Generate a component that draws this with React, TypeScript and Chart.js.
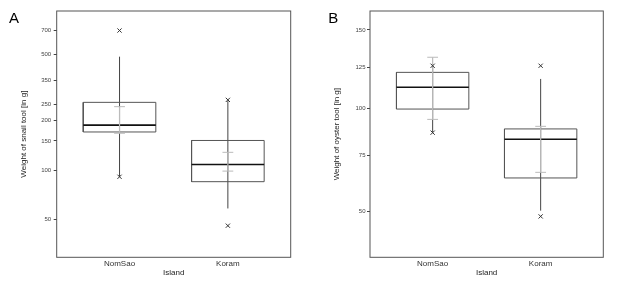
import React, { useEffect, useRef } from 'react';
import { Chart, registerables, LinearScale } from 'chart.js';

Chart.register(...registerables);

// Square-root scale (panel B)
class SqrtScale extends LinearScale {
  static id = 'sqrt';
  static defaults = {};
  getPixelForValue(value: number) {
    const a = Math.sqrt(this.min);
    const b = Math.sqrt(this.max);
    return this.getPixelForDecimal((Math.sqrt(value) - a) / (b - a));
  }
  getValueForPixel(pixel: number) {
    const a = Math.sqrt(this.min);
    const b = Math.sqrt(this.max);
    const s = a + this.getDecimalForPixel(pixel) * (b - a);
    return s * s;
  }
}
Chart.register(SqrtScale as any);

// ---------------- DATA ----------------
const islands = ['NomSao', 'Koram'];

// Panel A: weight of snail tool [in g] (log scale)
const snailTicks = [50, 100, 150, 200, 250, 350, 500, 700];
const snailWhiskerLow = [91, 58.5];
const snailQ1 = [170, 85];
const snailMedian = [187, 108];
const snailQ3 = [257, 151];
const snailWhiskerHigh = [486, 262];
const snailCiLow = [167, 98.5];
const snailCiHigh = [242, 128];
const snailMarkHigh = [700, 266];
const snailMarkLow = [91, 46];

// Panel B: weight of oyster tool [in g] (square-root scale)
const oysterTicks = [50, 75, 100, 125, 150];
const oysterWhiskerLow = [86.8, 50.3];
const oysterQ1 = [99.8, 64.4];
const oysterMedian = [112.6, 83.3];
const oysterQ3 = [121.8, 88.8];
const oysterWhiskerHigh = [126, 117.7];
const oysterCiLow = [94, 67];
const oysterCiHigh = [131.5, 90.2];
const oysterMarkHigh = [126, 126];
const oysterMarkLow = [86.8, 48];

// ---------------- STYLE ----------------
const FONT = "'Liberation Sans', Arial, Helvetica, sans-serif";
const BOX_HALF = 0.335;
const CAP_HALF = 0.05;
const C_WHISKER = '#444';
const C_BOX = '#555';
const C_MEDIAN = '#111';
const C_CI = '#bbbbbb';
const C_MARK = '#333';

Chart.defaults.font.family = FONT;

type Stats = {
  wLow: number[]; q1: number[]; med: number[]; q3: number[]; wHigh: number[];
  ciLow: number[]; ciHigh: number[]; markHigh: number[]; markLow: number[];
};

function buildDatasets(s: Stats) {
  const line = (data: { x: number; y: number }[], color: string, width: number) => ({
    data,
    showLine: true,
    borderColor: color,
    borderWidth: width,
    pointRadius: 0,
    fill: false,
  });
  const ds: any[] = [];
  // first = top-most
  ds.push({
    data: islands.flatMap((_, i) => [
      { x: i + 1, y: s.markHigh[i] },
      { x: i + 1, y: s.markLow[i] },
    ]),
    showLine: false,
    pointStyle: 'crossRot',
    pointRadius: 3,
    pointBorderColor: C_MARK,
    pointBackgroundColor: C_MARK,
    pointBorderWidth: 1,
  });
  islands.forEach((_, i) => {
    const x = i + 1;
    ds.push(line([{ x, y: s.ciLow[i] }, { x, y: s.ciHigh[i] }], C_CI, 1.2));
    ds.push(line([{ x: x - CAP_HALF, y: s.ciLow[i] }, { x: x + CAP_HALF, y: s.ciLow[i] }], C_CI, 1));
    ds.push(line([{ x: x - CAP_HALF, y: s.ciHigh[i] }, { x: x + CAP_HALF, y: s.ciHigh[i] }], C_CI, 1));
  });
  islands.forEach((_, i) => {
    const x = i + 1;
    ds.push(line([{ x: x - BOX_HALF, y: s.med[i] }, { x: x + BOX_HALF, y: s.med[i] }], C_MEDIAN, 1.6));
  });
  islands.forEach((_, i) => {
    const x = i + 1;
    ds.push(line([
      { x: x - BOX_HALF, y: s.q1[i] },
      { x: x + BOX_HALF, y: s.q1[i] },
      { x: x + BOX_HALF, y: s.q3[i] },
      { x: x - BOX_HALF, y: s.q3[i] },
      { x: x - BOX_HALF, y: s.q1[i] },
    ], C_BOX, 1));
  });
  islands.forEach((_, i) => {
    const x = i + 1;
    ds.push(line([{ x, y: s.wLow[i] }, { x, y: s.wHigh[i] }], C_WHISKER, 1));
  });
  return ds;
}

const framePlugin = {
  id: 'frame',
  afterDraw(chart: any) {
    const { ctx, chartArea } = chart;
    const { left, top, right, bottom } = chartArea;
    ctx.save();
    ctx.strokeStyle = '#555';
    ctx.lineWidth = 1;
    ctx.strokeRect(left, top, right - left, bottom - top);
    ctx.restore();
  },
};

function makeOptions(p: {
  yType: string; yMin: number; yMax: number; yTicks: number[]; yTitle: string;
  yWidth: number; yTitlePad: number; tickPad: number; rightPad: number;
}) {
  return {
    animation: false,
    responsive: false,
    events: [],
    layout: { padding: { left: 0, top: 11, right: p.rightPad, bottom: 0 } },
    plugins: { legend: { display: false }, tooltip: { enabled: false } },
    scales: {
      x: {
        type: 'linear',
        min: 0.42,
        max: 2.58,
        afterBuildTicks: (sc: any) => {
          sc.ticks = islands.map((_, i) => ({ value: i + 1 }));
        },
        afterFit: (sc: any) => {
          sc.height = 31.7;
        },
        ticks: {
          autoSkip: false,
          maxRotation: 0,
          padding: 1.2,
          color: '#333',
          font: { size: 8, family: FONT },
          callback: (v: any) => islands[Math.round(Number(v)) - 1] ?? '',
        },
        grid: { display: false, drawTicks: false },
        border: { display: false },
        title: {
          display: true,
          text: 'Island',
          color: '#222',
          font: { size: 8, family: FONT },
          padding: { top: 0, bottom: 11.5 },
        },
      },
      y: {
        type: p.yType,
        min: p.yMin,
        max: p.yMax,
        afterBuildTicks: (sc: any) => {
          sc.ticks = p.yTicks.map((v) => ({ value: v }));
        },
        afterFit: (sc: any) => {
          sc.width = p.yWidth;
        },
        ticks: {
          autoSkip: false,
          padding: p.tickPad,
          color: '#444',
          font: { size: 6, family: FONT },
          callback: (v: any) => String(v),
        },
        grid: { drawOnChartArea: false, drawTicks: true, tickLength: 3, color: '#444', lineWidth: 1 },
        border: { display: false },
        title: {
          display: true,
          text: p.yTitle,
          color: '#222',
          font: { size: 8, family: FONT },
          padding: { top: p.yTitlePad, bottom: 0 },
        },
      },
    },
  } as any;
}

function Panel(props: { stats: Stats; options: any; width: number; left: number }) {
  const ref = useRef<HTMLCanvasElement | null>(null);
  useEffect(() => {
    if (!ref.current) return;
    const chart = new Chart(ref.current, {
      type: 'scatter',
      data: { datasets: buildDatasets(props.stats) },
      options: props.options,
      plugins: [framePlugin],
    } as any);
    return () => chart.destroy();
  }, []);
  return (
    <canvas
      ref={ref}
      width={props.width}
      height={289}
      style={{ position: 'absolute', left: props.left, top: 0, width: props.width, height: 289 }}
    />
  );
}

export default function App() {
  const snail: Stats = {
    wLow: snailWhiskerLow, q1: snailQ1, med: snailMedian, q3: snailQ3, wHigh: snailWhiskerHigh,
    ciLow: snailCiLow, ciHigh: snailCiHigh, markHigh: snailMarkHigh, markLow: snailMarkLow,
  };
  const oyster: Stats = {
    wLow: oysterWhiskerLow, q1: oysterQ1, med: oysterMedian, q3: oysterQ3, wHigh: oysterWhiskerHigh,
    ciLow: oysterCiLow, ciHigh: oysterCiHigh, markHigh: oysterMarkHigh, markLow: oysterMarkLow,
  };
  const optA = makeOptions({
    yType: 'logarithmic', yMin: 29.6, yMax: 919, yTicks: snailTicks,
    yTitle: 'Weight of snail tool [in g]', yWidth: 56.7, yTitlePad: 19.2, tickPad: 2.5, rightPad: 19.3,
  });
  const optB = makeOptions({
    yType: 'sqrt', yMin: 33.2, yMax: 163.5, yTicks: oysterTicks,
    yTitle: 'Weight of oyster tool [in g]', yWidth: 60, yTitlePad: 22.2, tickPad: 1.5, rightPad: 13.7,
  });
  const letter: React.CSSProperties = {
    position: 'absolute',
    top: 10,
    fontFamily: FONT,
    fontSize: 15,
    lineHeight: '15px',
    color: '#000',
  };
  return (
    <div style={{ position: 'absolute', left: 0, top: 0, width: 617, height: 289, background: '#fff', overflow: 'hidden' }}>
      <Panel stats={snail} options={optA} width={310} left={0} />
      <Panel stats={oyster} options={optB} width={307} left={310} />
      <div style={{ ...letter, left: 9 }}>A</div>
      <div style={{ ...letter, left: 328.2 }}>B</div>
    </div>
  );
}
